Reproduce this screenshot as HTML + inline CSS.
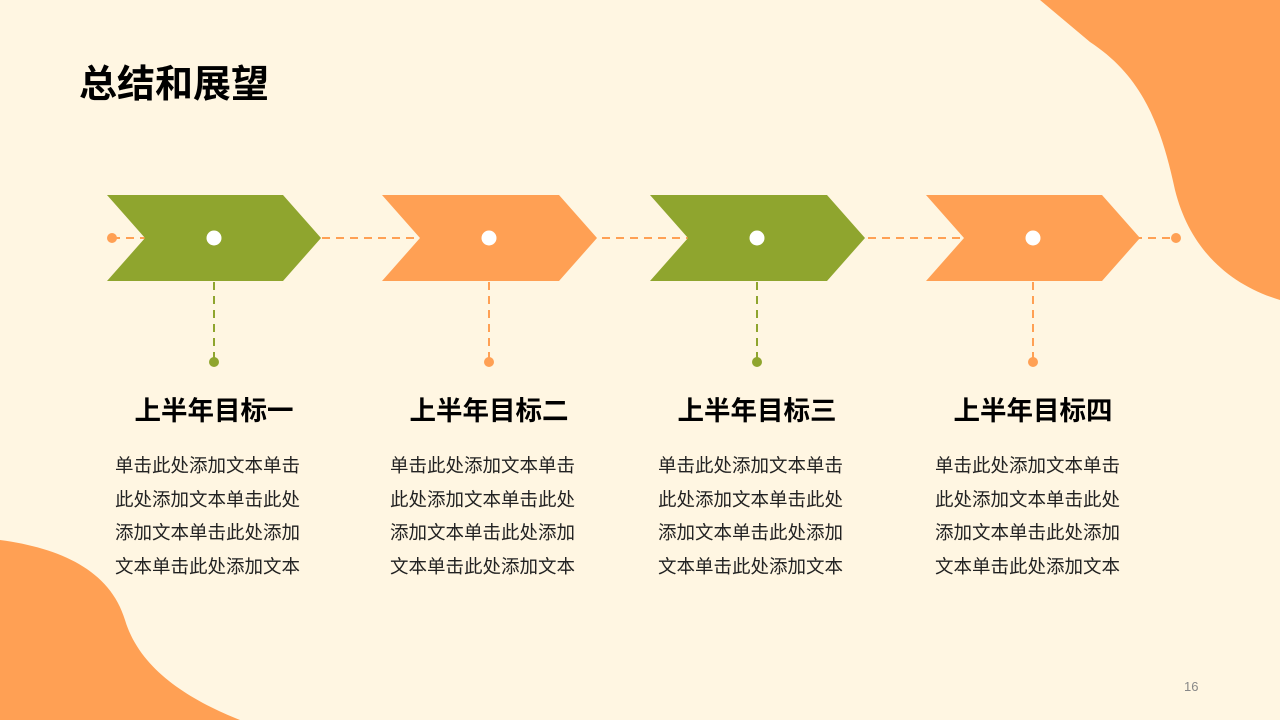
<!DOCTYPE html>
<html><head><meta charset="utf-8"><style>
body{margin:0;width:1280px;height:720px;overflow:hidden;background:#fff6e2;font-family:"Liberation Sans","Noto Sans CJK SC",sans-serif;position:relative}
svg{position:absolute;left:0;top:0}
.t{position:absolute;left:79px;top:53px;font-size:38px;font-weight:bold;color:#000}
.h{position:absolute;top:389px;width:240px;text-align:center;font-size:26.5px;font-weight:bold;color:#000}
.b{position:absolute;top:449px;width:190px;font-size:18.5px;line-height:33.5px;color:#222}
.n{position:absolute;left:1184px;top:679px;font-size:13px;color:#888}
</style></head><body>
<svg width="1280" height="720">
<path d="M1040 0 L1280 0 L1280 300 C1230 285 1190 250 1175 190 C1160 120 1140 75 1090 42 Z" fill="#ffa054"/>
<path d="M0 540 C60 548 110 570 125 620 C140 670 190 700 240 720 L0 720 Z" fill="#ffa054"/>
<g stroke-dasharray="8 6" stroke-width="2" fill="none">
<line x1="112" y1="238" x2="1176" y2="238" stroke="#ffa054"/>
<line x1="214" y1="282" x2="214" y2="360" stroke="#8fa52e"/>
<line x1="489" y1="282" x2="489" y2="360" stroke="#ffa054"/>
<line x1="757" y1="282" x2="757" y2="360" stroke="#8fa52e"/>
<line x1="1033" y1="282" x2="1033" y2="360" stroke="#ffa054"/>
</g>
<circle cx="112" cy="238" r="5" fill="#ffa054"/><circle cx="1176" cy="238" r="5" fill="#ffa054"/>
<circle cx="214" cy="362" r="5" fill="#8fa52e"/><circle cx="489" cy="362" r="5" fill="#ffa054"/>
<circle cx="757" cy="362" r="5" fill="#8fa52e"/><circle cx="1033" cy="362" r="5" fill="#ffa054"/>
<g>
<polygon points="107,195 283,195 321,238 283,281 107,281 145,238" fill="#8fa52e"/>
<polygon points="382,195 559,195 597,238 559,281 382,281 420,238" fill="#ffa054"/>
<polygon points="650,195 827,195 865,238 827,281 650,281 688,238" fill="#8fa52e"/>
<polygon points="926,195 1102,195 1140,238 1102,281 926,281 964,238" fill="#ffa054"/>
</g>
<g fill="#fff"><circle cx="214" cy="238" r="7.5"/><circle cx="489" cy="238" r="7.5"/><circle cx="757" cy="238" r="7.5"/><circle cx="1033" cy="238" r="7.5"/></g>
</svg>
<div class="t">总结和展望</div>
<div class="h" style="left:94px">上半年目标一</div>
<div class="h" style="left:369px">上半年目标二</div>
<div class="h" style="left:637px">上半年目标三</div>
<div class="h" style="left:913px">上半年目标四</div>
<div class="b" style="left:115px">单击此处添加文本单击<br>此处添加文本单击此处<br>添加文本单击此处添加<br>文本单击此处添加文本</div>
<div class="b" style="left:390px">单击此处添加文本单击<br>此处添加文本单击此处<br>添加文本单击此处添加<br>文本单击此处添加文本</div>
<div class="b" style="left:658px">单击此处添加文本单击<br>此处添加文本单击此处<br>添加文本单击此处添加<br>文本单击此处添加文本</div>
<div class="b" style="left:935px">单击此处添加文本单击<br>此处添加文本单击此处<br>添加文本单击此处添加<br>文本单击此处添加文本</div>
<div class="n">16</div>
</body></html>
